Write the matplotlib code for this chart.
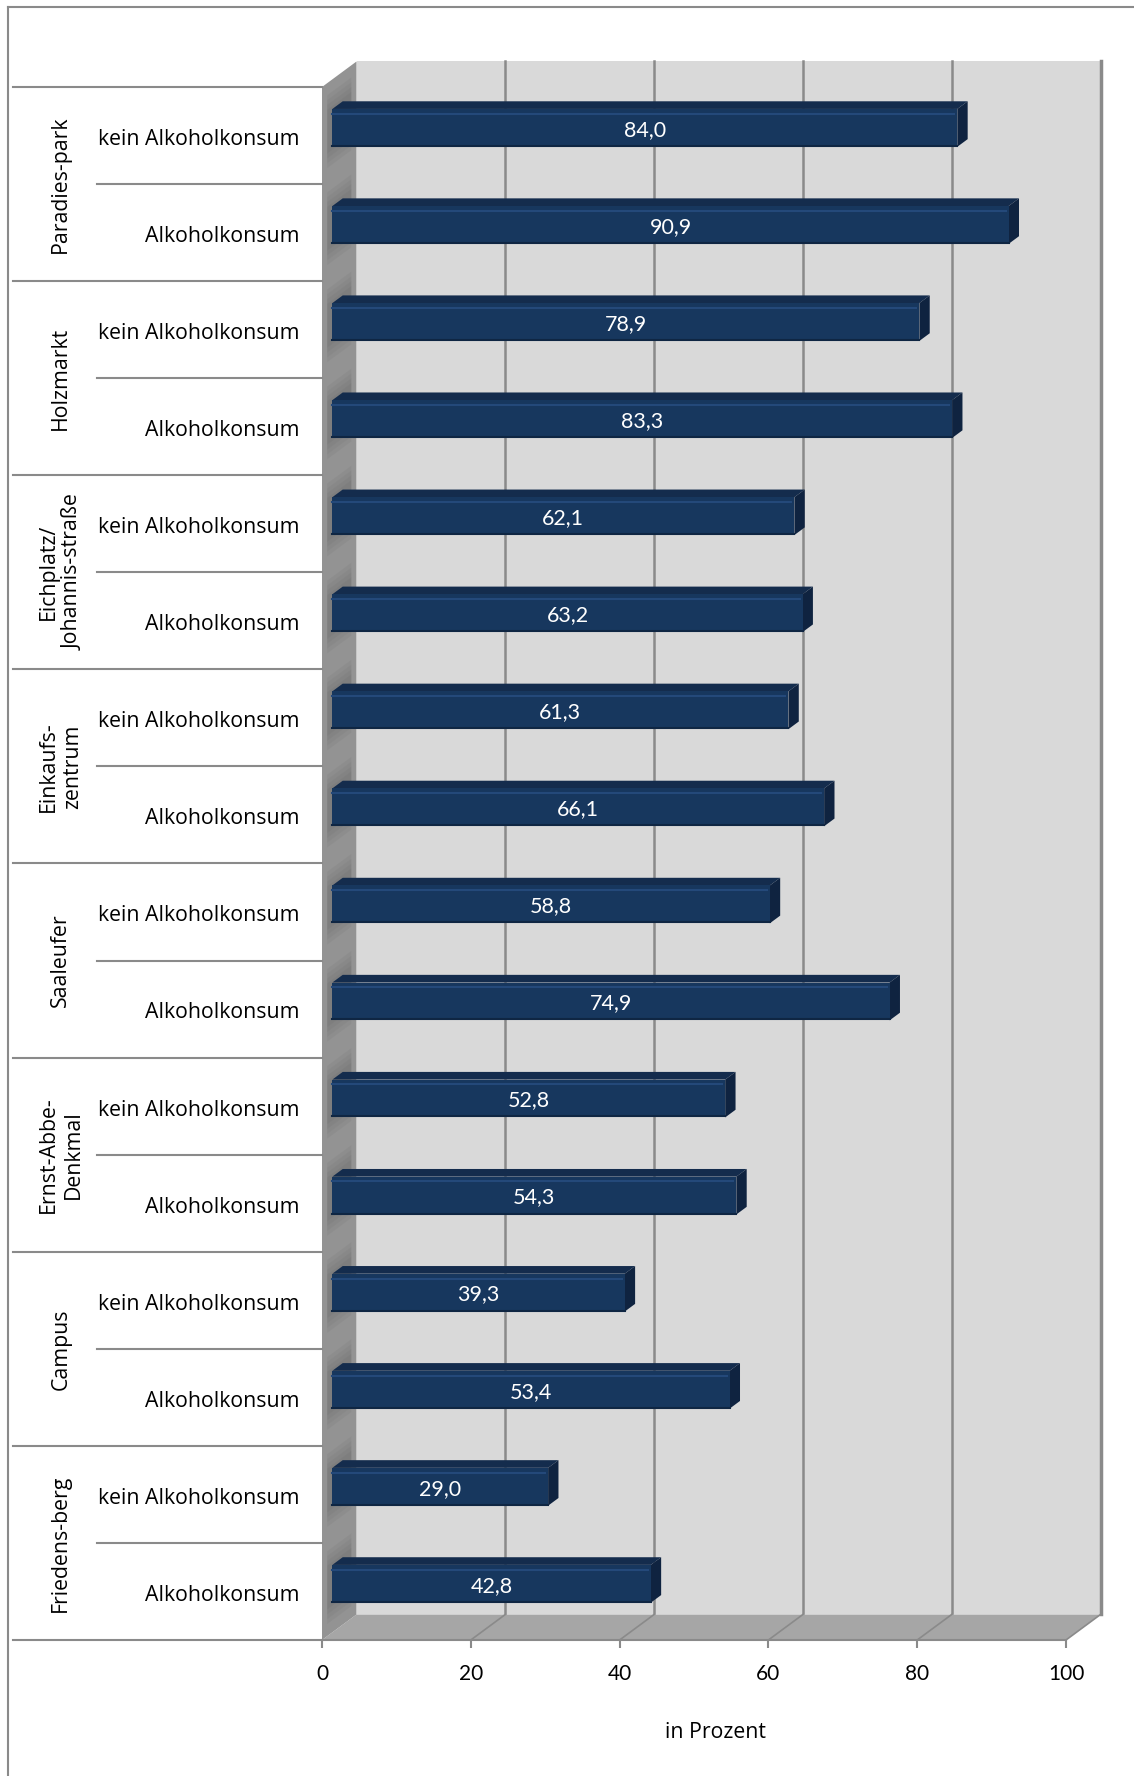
import matplotlib.pyplot as plt
from matplotlib.patches import Polygon
from matplotlib.lines import Line2D
import numpy as np

# data
groups = ["Paradies-park", "Holzmarkt", "Eichplatz/\nJohannis-straße", "Einkaufs-\nzentrum",
          "Saaleufer", "Ernst-Abbe-\nDenkmal", "Campus", "Friedens-berg"]
rows = ["kein Alkoholkonsum", "Alkoholkonsum"]
kein = [84.0, 78.9, 62.1, 61.3, 58.8, 52.8, 39.3, 29.0]
alko = [90.9, 83.3, 63.2, 66.1, 74.9, 54.3, 53.4, 42.8]
xticks = [0, 20, 40, 60, 80, 100]

W, H = 1134, 1776
fig = plt.figure(figsize=(W / 100, H / 100), dpi=100)
ax = fig.add_axes([322 / W, 1 - 1640 / H, 744 / W, 1553 / H])
n = 2 * len(groups)
ax.set_xlim(0, 100)
ax.set_ylim(n, 0)

DX, DY = 4.64, -0.263   # depth offset of the back wall (data units)
D0, D1 = 0.3, 0.6       # bar depth range
BH = 0.39               # bar height (rows)

wall_c = "#d9d9d9"
side_c = "#939393"
floor_c = "#a6a6a6"
grid_c = "#8a8a8a"


def P(x, y, d):
    return (x + d * DX, y + d * DY)


def poly(pts, **kw):
    p = Polygon(pts, closed=True, clip_on=False, **kw)
    ax.add_patch(p)
    return p


# back wall, floor, side wall
poly([P(0, 0, 1), P(100, 0, 1), P(100, n, 1), P(0, n, 1)], facecolor=wall_c, edgecolor="none", zorder=1)
for t in xticks[1:-1]:
    ax.plot(*zip(P(t, 0, 1), P(t, n, 1)), color=grid_c, lw=1.8, clip_on=False, zorder=2)
ax.plot(*zip(P(100, 0, 1), P(100, n, 1)), color=grid_c, lw=2.5, clip_on=False, zorder=2)
poly([P(0, n, 0), P(100, n, 0), P(100, n, 1), P(0, n, 1)], facecolor=floor_c, edgecolor="none", zorder=2)
for t in xticks[1:]:
    ax.plot(*zip(P(t, n, 0), P(t, n, 1)), color=grid_c, lw=1.2, clip_on=False, zorder=3)
poly([P(0, 0, 0), P(0, 0, 1), P(0, n, 1), P(0, n, 0)], facecolor=side_c, edgecolor="none", zorder=3)

# bars
vals = []
for a, b in zip(kein, alko):
    vals += [a, b]
for i, v in enumerate(vals):
    yc = i + 0.5
    top, bot = yc - BH / 2, yc + BH / 2
    # soft shadow on side wall
    for k in range(4):
        s = 0.03 + 0.05 * k
        poly([P(0, top - s, 0.15), P(0, top - s, 0.85), P(0, bot + s, 0.85), P(0, bot + s, 0.15)],
             facecolor="#3a3a3a", edgecolor="none", alpha=0.06, zorder=3.5)
    poly([P(0, top, D0), P(v, top, D0), P(v, top, D1), P(0, top, D1)],
         facecolor="#142c4d", edgecolor="none", zorder=5)
    poly([P(v, top, D0), P(v, bot, D0), P(v, bot, D1), P(v, top, D1)],
         facecolor="#0f2340", edgecolor="none", zorder=5)
    poly([P(0, top, D0), P(v, top, D0), P(v, bot, D0), P(0, bot, D0)],
         facecolor="#17375e", edgecolor="none", zorder=6)
    ax.plot(*zip(P(0, top + 0.05, D0), P(v - 0.4, top + 0.05, D0)), color="#24497a", lw=1.5,
            clip_on=False, zorder=7)
    ax.plot(*zip(P(0, bot - 0.01, D0), P(v, bot - 0.01, D0)), color="#0f2643", lw=1.5,
            clip_on=False, zorder=7)
    lx, ly = P(v / 2, yc + 0.02, D0)
    ax.text(lx, ly, f"{v:.1f}".replace(".", ","), color="white", fontsize=15.5,
            family=["Lato", "DejaVu Sans"], ha="center", va="center", zorder=8)

# category table on the left
lab_font = ["Open Sans", "DejaVu Sans"]
for g, name in enumerate(groups):
    ax.text(-35.1, 2 * g + 1, name, rotation=90, ha="center", va="center", fontsize=15.3,
            family=lab_font, multialignment="center", linespacing=1.2)
    for k, r in enumerate(rows):
        ax.text(-3.0, 2 * g + k + 0.54, r, ha="right", va="center", fontsize=15.3, family=lab_font)
    ax.plot([-30.2, 0], [2 * g + 1, 2 * g + 1], color=grid_c, lw=1.5, clip_on=False, zorder=4)
for g in range(len(groups) + 1):
    ax.plot([-41.5, 0], [2 * g, 2 * g], color=grid_c, lw=1.5, clip_on=False, zorder=4)

# x axis
for s in ["top", "left", "right"]:
    ax.spines[s].set_visible(False)
ax.spines["bottom"].set_color(grid_c)
ax.spines["bottom"].set_linewidth(1.5)
ax.spines["bottom"].set_zorder(4)
ax.set_yticks([])
ax.set_xticks(xticks)
ax.set_xticklabels([str(t) for t in xticks], fontsize=15, family=["Lato", "DejaVu Sans"])
ax.tick_params(axis="x", direction="out", length=6, width=1.5, color=grid_c, pad=11)
ax.set_xlabel("in Prozent", fontsize=15.3, family=lab_font)
ax.xaxis.set_label_coords((716 - 322) / 744, -(1732 - 1640) / 1553)
ax.xaxis.label.set_va("center")
ax.patch.set_visible(False)

# outer frame (left and top edges)
fig.add_artist(Line2D([8 / W, 8 / W], [0, 1 - 7 / H], color=grid_c, lw=1.5))
fig.add_artist(Line2D([8 / W, 1], [1 - 7 / H, 1 - 7 / H], color=grid_c, lw=1.5))

fig.savefig("out.png", dpi=100)
